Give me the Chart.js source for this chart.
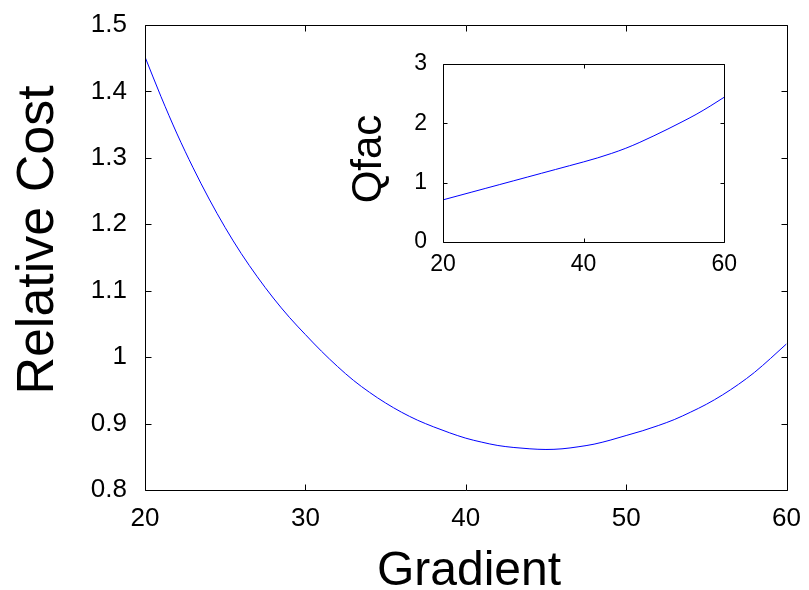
<!DOCTYPE html>
<html>
<head>
<meta charset="utf-8">
<title>Relative Cost vs Gradient</title>
<script src="https://cdn.jsdelivr.net/npm/chart.js@4"></script>
<style>
  html, body { margin: 0; padding: 0; background: #fff; }
  #wrap { position: relative; width: 809px; height: 590px; }
  #mainChart { position: absolute; left: 0; top: 0; }
  #insetChart { position: absolute; left: 340px; top: 40px; }
</style>
</head>
<body>
<div id="wrap">
  <canvas id="mainChart" width="809" height="590"></canvas>
  <canvas id="insetChart" width="400" height="250"></canvas>
</div>
<script>
// --- main plot: relative cost against gradient ---
const gradient = [20, 21, 22, 23, 24, 25, 26, 27, 28, 29, 30, 31, 32, 33, 34, 35, 36, 37, 38, 39, 40,
                  41, 42, 43, 44, 45, 46, 47, 48, 49, 50, 51, 52, 53, 54, 55, 56, 57, 58, 59, 60];
const relativeCost = [1.452, 1.392, 1.336, 1.285, 1.238, 1.195, 1.156, 1.121, 1.089, 1.060, 1.034,
                      1.009, 0.986, 0.965, 0.947, 0.931, 0.917, 0.905, 0.895, 0.886, 0.878,
                      0.872, 0.867, 0.864, 0.862, 0.861, 0.862, 0.865, 0.869, 0.875, 0.882,
                      0.889, 0.897, 0.906, 0.917, 0.929, 0.943, 0.959, 0.977, 0.998, 1.020];
const mainXTicks = [20, 30, 40, 50, 60];
const mainYTicks = [0.8, 0.9, 1, 1.1, 1.2, 1.3, 1.4, 1.5];

// --- inset: Qfac against gradient ---
const qfacGradient = [20, 22, 24, 26, 28, 30, 32, 34, 36, 38, 40, 42, 44, 46, 48, 50, 52, 54, 56, 58, 60];
const qfac = [0.71, 0.774, 0.838, 0.902, 0.966, 1.03, 1.094, 1.158, 1.222, 1.286, 1.35,
              1.418, 1.494, 1.58, 1.68, 1.79, 1.905, 2.025, 2.15, 2.29, 2.44];
const insetXTicks = [20, 40, 60];
const insetYTicks = [0, 1, 2, 3];

const FONT = "'Liberation Sans', Arial, sans-serif";

// Boxed axes with inward ticks on all four sides
const boxAxes = {
  id: 'boxAxes',
  beforeDraw(chart, args, opts) {
    if (!opts.fill) return;
    const {ctx, chartArea: a} = chart;
    ctx.save();
    ctx.fillStyle = opts.fill;
    ctx.fillRect(a.left, a.top, a.right - a.left, a.bottom - a.top);
    ctx.restore();
  },
  afterDatasetsDraw(chart, args, opts) {
    const {ctx, chartArea: a, scales} = chart;
    const len = opts.tickLength || 5;
    const L = Math.round(a.left) + 0.5, R = Math.round(a.right) + 0.5;
    const T = Math.round(a.top) + 0.5, B = Math.round(a.bottom) + 0.5;
    ctx.save();
    ctx.strokeStyle = '#000';
    ctx.lineWidth = 1;
    ctx.beginPath();
    scales.x.ticks.forEach(t => {
      const px = Math.round(scales.x.getPixelForValue(t.value)) + 0.5;
      ctx.moveTo(px, B); ctx.lineTo(px, B - len);
      ctx.moveTo(px, T); ctx.lineTo(px, T + len);
    });
    scales.y.ticks.forEach(t => {
      const py = Math.round(scales.y.getPixelForValue(t.value)) + 0.5;
      ctx.moveTo(L, py); ctx.lineTo(L + len, py);
      ctx.moveTo(R, py); ctx.lineTo(R - len, py);
    });
    ctx.rect(L, T, R - L, B - T);
    ctx.stroke();
    ctx.restore();
  }
};

// Axis labels placed like the original figure's xlabel / ylabel
const axisLabels = {
  id: 'axisLabels',
  afterDraw(chart, args, opts) {
    const {ctx} = chart;
    (opts.items || []).forEach(it => {
      ctx.save();
      ctx.translate(it.x, it.y);
      if (it.vertical) ctx.rotate(-Math.PI / 2);
      ctx.font = it.size + 'px ' + FONT;
      ctx.fillStyle = '#000';
      ctx.textAlign = 'center';
      ctx.textBaseline = 'middle';
      ctx.fillText(it.text, 0, 0);
      ctx.restore();
    });
  }
};

function fixedTicks(values) {
  return scale => { scale.ticks = values.map(v => ({value: v})); };
}

function makeChart(id, xs, ys, cfg) {
  return new Chart(document.getElementById(id), {
    type: 'line',
    data: {
      datasets: [{
        data: xs.map((x, i) => ({x: x, y: ys[i]})),
        borderColor: '#0000ff',
        borderWidth: 1,
        pointRadius: 0,
        cubicInterpolationMode: 'monotone',
        fill: false
      }]
    },
    options: {
      responsive: false,
      animation: false,
      layout: {padding: cfg.padding},
      plugins: {
        legend: {display: false},
        tooltip: {enabled: false},
        boxAxes: {tickLength: cfg.tickLength, fill: cfg.fill},
        axisLabels: {items: cfg.labels}
      },
      scales: {
        x: {
          type: 'linear',
          min: cfg.xMin, max: cfg.xMax,
          afterBuildTicks: fixedTicks(cfg.xTicks),
          afterFit: s => { s.height = cfg.xHeight; },
          grid: {display: false},
          border: {display: false},
          ticks: {
            color: '#000', padding: cfg.xPad, maxRotation: 0, autoSkip: false,
            font: {family: FONT, size: cfg.tickSize, lineHeight: 1},
            callback: v => String(v)
          }
        },
        y: {
          type: 'linear',
          min: cfg.yMin, max: cfg.yMax,
          afterBuildTicks: fixedTicks(cfg.yTicks),
          afterFit: s => { s.width = cfg.yWidth; },
          grid: {display: false},
          border: {display: false},
          ticks: {
            color: '#000', padding: cfg.yPad, autoSkip: false,
            font: {family: FONT, size: cfg.tickSize, lineHeight: 1},
            callback: v => String(v)
          }
        }
      }
    },
    plugins: [boxAxes, axisLabels]
  });
}

makeChart('mainChart', gradient, relativeCost, {
  padding: {left: 0, top: 25, right: 21, bottom: 0},
  xMin: 20, xMax: 60, yMin: 0.8, yMax: 1.5,
  xTicks: mainXTicks, yTicks: mainYTicks,
  xHeight: 100, yWidth: 145,
  xPad: 8, yPad: 10, tickSize: 26, tickLength: 6,
  labels: [
    {text: 'Gradient', x: 469, y: 572, size: 48},
    {text: 'Relative Cost', x: 39, y: 240, size: 52, vertical: true}
  ]
});

makeChart('insetChart', qfacGradient, qfac, {
  padding: {left: 0, top: 24, right: 13, bottom: 0},
  xMin: 20, xMax: 60, yMin: 0, yMax: 3,
  xTicks: insetXTicks, yTicks: insetYTicks,
  xHeight: 48, yWidth: 103,
  xPad: 3, yPad: 8, tickSize: 23, tickLength: 4,
  fill: '#fff',
  labels: [
    {text: 'Qfac', x: 29, y: 119, size: 42, vertical: true}
  ]
});
</script>
</body>
</html>
